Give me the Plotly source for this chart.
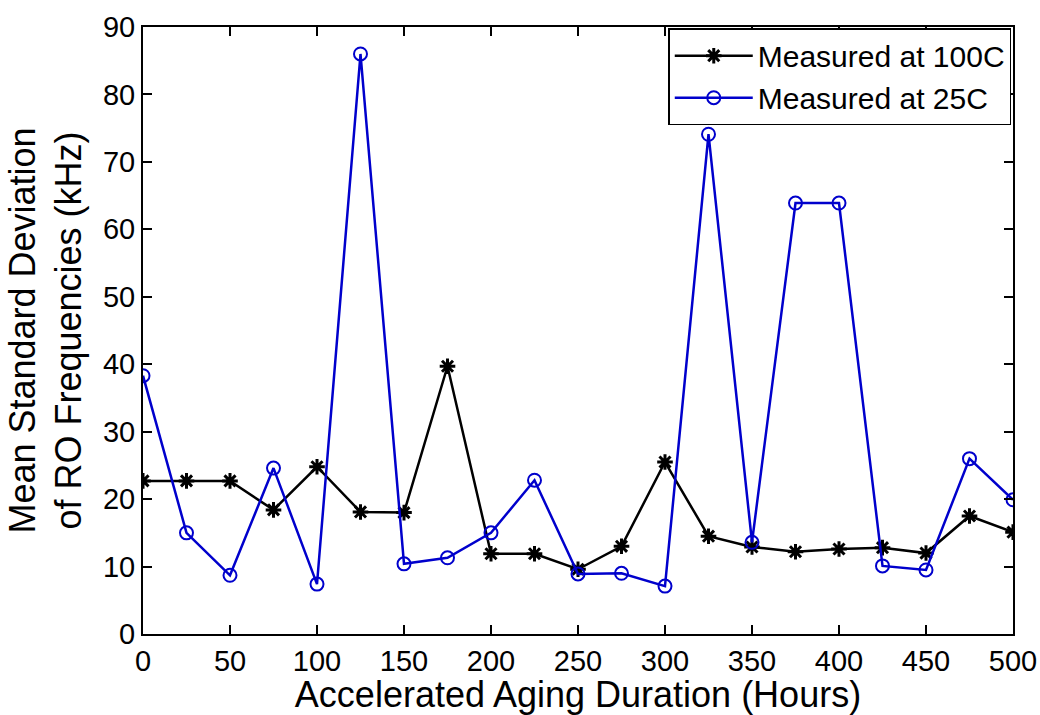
import plotly.graph_objects as go

hours = [0, 25, 50, 75, 100, 125, 150, 175, 200, 225, 250,
         275, 300, 325, 350, 375, 400, 425, 450, 475, 500]

std_100c = [22.7, 22.7, 22.7, 18.4, 24.8, 18.1, 18.0, 39.7, 11.9, 11.9, 9.6,
            13.0, 25.5, 14.5, 12.9, 12.2, 12.6, 12.8, 12.0, 17.5, 15.1]

std_25c = [38.3, 15.0, 8.7, 24.6, 7.4, 86.0, 10.4, 11.3, 15.0, 22.8, 8.9,
           9.0, 7.1, 74.1, 13.6, 63.9, 63.9, 10.1, 9.5, 26.0, 19.9]

font_family = "Liberation Sans, Arial, sans-serif"

fig = go.Figure()
fig.add_trace(go.Scatter(
    x=hours, y=std_100c, mode="lines+markers", name="Measured at 100C",
    line=dict(color="black", width=2.5),
    marker=dict(symbol="asterisk-open", size=13, color="black",
                line=dict(color="black", width=3)),
))
fig.add_trace(go.Scatter(
    x=hours, y=std_25c, mode="lines+markers", name="Measured at 25C",
    line=dict(color="#0000cc", width=2.5),
    marker=dict(symbol="circle-open", size=13, color="#0000cc",
                line=dict(color="#0000cc", width=2)),
))

axis_common = dict(
    showgrid=False, zeroline=False, showline=True, mirror="ticks",
    linecolor="black", linewidth=2, ticks="inside", ticklen=9,
    tickcolor="black", tickwidth=1.5, automargin=False,
    tickfont=dict(family=font_family, size=29, color="black"),
)

fig.update_layout(
    width=1040, height=715,
    margin=dict(l=143, r=27, t=27, b=81),
    paper_bgcolor="white", plot_bgcolor="white",
    font=dict(family=font_family, color="black"),
    xaxis=dict(range=[0, 500], tickvals=list(range(0, 501, 50)),
               title=dict(text="Accelerated Aging Duration (Hours)",
                          font=dict(size=36), standoff=0),
               **axis_common),
    yaxis=dict(range=[0, 90], tickvals=list(range(0, 91, 10)),
               title=dict(text="Mean Standard Deviation<br>of RO Frequencies (kHz)",
                          font=dict(size=36), standoff=10),
               **axis_common),
    legend=dict(x=0.998, y=0.998, xanchor="right", yanchor="top",
                bgcolor="white", bordercolor="black", borderwidth=1.5,
                font=dict(size=30), tracegroupgap=0, itemwidth=78),
    showlegend=True,
)

fig.write_html("out.html")
